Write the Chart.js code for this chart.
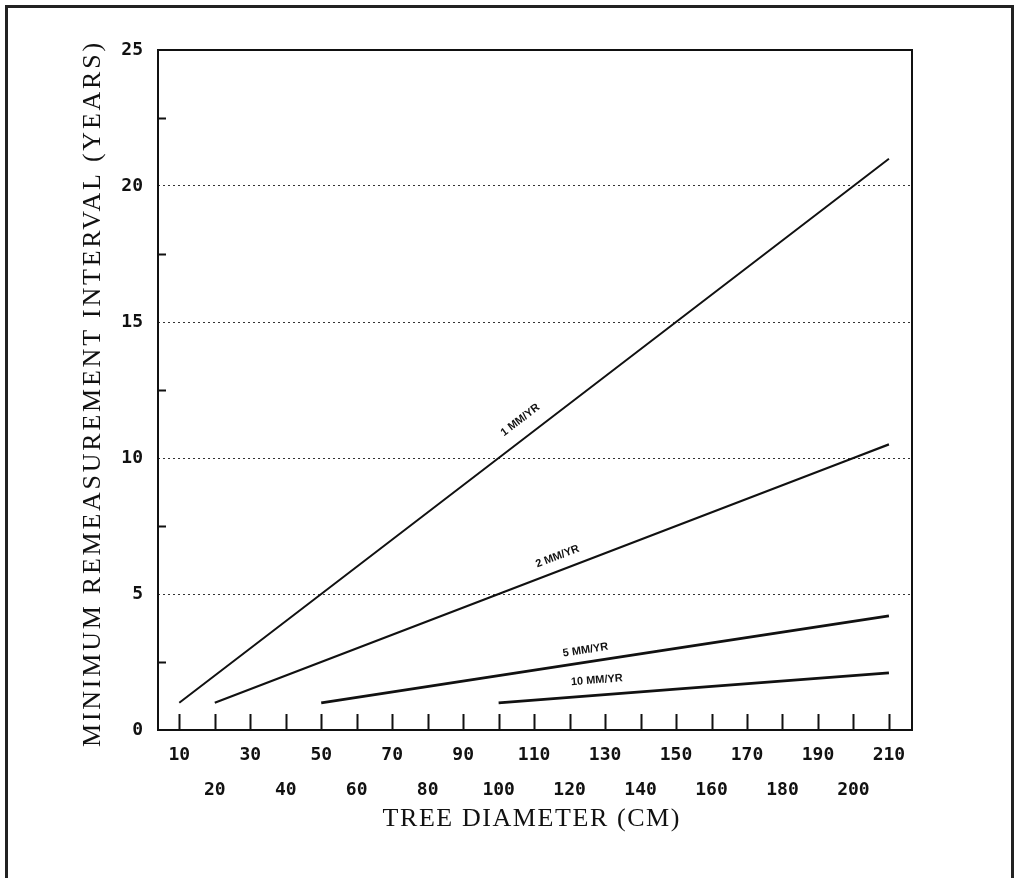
<!DOCTYPE html>
<html>
<head>
<meta charset="utf-8">
<script src="https://cdn.jsdelivr.net/npm/chart.js@4.4.1/dist/chart.umd.min.js"></script>
<style>
  html, body { margin: 0; padding: 0; background: #fff; }
  canvas { display: block; }
</style>
</head>
<body>
<canvas id="chart" width="1018" height="878"></canvas>
<script>
// ---- minimum remeasurement interval vs tree diameter ----

const xTicks = [10, 20, 30, 40, 50, 60, 70, 80, 90, 100, 110, 120, 130, 140, 150, 160, 170, 180, 190, 200, 210];
const yTicks = [0, 5, 10, 15, 20, 25];
const yMinorTicks = [2.5, 7.5, 12.5, 17.5, 22.5];

const xTitle = 'TREE DIAMETER (CM)';
const yTitle = 'MINIMUM REMEASUREMENT INTERVAL (YEARS)';
const rateNames = ['1 MM/YR', '2 MM/YR', '5 MM/YR', '10 MM/YR'];

// diameters (cm) and interval (years)
const diam1mm = [10, 50, 100, 150, 200, 210];
const years1mm = [1, 5, 10, 15, 20, 21];
const diam2mm = [20, 100, 200, 210];
const years2mm = [1, 5, 10, 10.5];
const diam5mm = [50, 100, 150, 210];
const years5mm = [1, 2, 3, 4.2];
const diam10mm = [100, 150, 210];
const years10mm = [1, 1.5, 2.1];

const seriesX = [diam1mm, diam2mm, diam5mm, diam10mm];
const seriesY = [years1mm, years2mm, years5mm, years10mm];

// where each curve label sits (diameter) and how far above the line
const labelAt = [109, 118, 125, 128];
const labelOffset = [17, 14, 12, 15];
const lineWidths = [2, 2.2, 2.8, 2.8];

const INK = '#111';
const TICK_FONT = { family: '"DejaVu Sans Mono", monospace', size: 18, weight: 'bold' };
const TITLE_FONT = '26px "Liberation Serif", "DejaVu Serif", serif';

function yOnSeries(i, d) {
  const xs = seriesX[i], ys = seriesY[i];
  for (let k = 0; k < xs.length - 1; k++) {
    if (d >= xs[k] && d <= xs[k + 1]) {
      return ys[k] + (ys[k + 1] - ys[k]) * (d - xs[k]) / (xs[k + 1] - xs[k]);
    }
  }
  return ys[ys.length - 1];
}

// spaced-out title text stretched to a given width, centred on (0, 0)
function spacedText(ctx, text, width) {
  ctx.letterSpacing = '0px';
  const w0 = ctx.measureText(text).width;
  const sp = (width - w0) / (text.length - 1);
  ctx.letterSpacing = sp.toFixed(2) + 'px';
  ctx.textAlign = 'left';
  ctx.fillText(text, -width / 2, 0);
  ctx.letterSpacing = '0px';
}

// plot box, inward tick marks, outer frame, axis titles, curve labels
const paperPlugin = {
  id: 'paper',
  afterDraw(chart) {
    const { ctx, chartArea: a, scales } = chart;
    const xs = scales.x, ys = scales.y;
    ctx.save();

    // plot box
    ctx.strokeStyle = INK;
    ctx.lineWidth = 2;
    ctx.strokeRect(a.left, a.top, a.right - a.left, a.bottom - a.top);

    // bottom ticks pointing in
    ctx.beginPath();
    xTicks.forEach(v => {
      const px = Math.round(xs.getPixelForValue(v)) + 0.5;
      ctx.moveTo(px, a.bottom);
      ctx.lineTo(px, a.bottom - 16);
    });
    // left minor ticks
    yMinorTicks.forEach(v => {
      const py = Math.round(ys.getPixelForValue(v)) + 0.5;
      ctx.moveTo(a.left, py);
      ctx.lineTo(a.left + 8, py);
    });
    ctx.stroke();

    // outer frame (no bottom edge)
    ctx.lineWidth = 3;
    ctx.strokeStyle = '#222';
    ctx.beginPath();
    ctx.moveTo(6.5, 878);
    ctx.lineTo(6.5, 6.5);
    ctx.lineTo(1012.5, 6.5);
    ctx.lineTo(1012.5, 878);
    ctx.stroke();

    // axis titles
    ctx.fillStyle = INK;
    ctx.font = TITLE_FONT;
    ctx.textBaseline = 'alphabetic';
    ctx.save();
    ctx.translate((a.left + a.right) / 2 - 4, 826);
    spacedText(ctx, xTitle, 297);
    ctx.restore();
    ctx.save();
    ctx.translate(100, 395);
    ctx.rotate(-Math.PI / 2);
    spacedText(ctx, yTitle, 704);
    ctx.restore();

    // curve labels
    ctx.font = 'bold 11px "Liberation Sans", sans-serif';
    ctx.textAlign = 'center';
    ctx.textBaseline = 'middle';
    rateNames.forEach((name, i) => {
      const pts = chart.getDatasetMeta(i).data;
      const p0 = pts[0], p1 = pts[pts.length - 1];
      const ang = Math.atan2(p1.y - p0.y, p1.x - p0.x);
      const d = labelAt[i];
      const px = xs.getPixelForValue(d);
      const py = ys.getPixelForValue(yOnSeries(i, d));
      const off = labelOffset[i];
      ctx.save();
      ctx.translate(px + Math.sin(ang) * off, py - Math.cos(ang) * off);
      ctx.rotate(ang);
      ctx.fillText(name, 0, 0);
      ctx.restore();
    });

    ctx.restore();
  }
};

const datasets = rateNames.map((name, i) => ({
  label: name,
  data: seriesX[i].map((d, k) => ({ x: d, y: seriesY[i][k] })),
  borderColor: INK,
  borderWidth: lineWidths[i],
  pointRadius: 0,
  tension: 0,
  fill: false,
}));

new Chart(document.getElementById('chart'), {
  type: 'line',
  data: { datasets },
  options: {
    responsive: false,
    animation: false,
    layout: { padding: { left: 0, right: 106, top: 50, bottom: 0 } },
    plugins: {
      legend: { display: false },
      tooltip: { enabled: false },
    },
    scales: {
      x: {
        type: 'linear',
        min: 4,
        max: 216.5,
        afterBuildTicks: scale => { scale.ticks = xTicks.map(v => ({ value: v })); },
        afterFit: scale => { scale.height = 148; },
        grid: { display: false, drawTicks: false },
        border: { display: false },
        ticks: {
          autoSkip: false,
          maxRotation: 0,
          minRotation: 0,
          padding: 8,
          color: INK,
          font: { ...TICK_FONT, lineHeight: 1.95 },
          callback: (v, i) => (i % 2 === 0 ? [String(v), ''] : ['', String(v)]),
        },
        title: { display: false },
      },
      y: {
        min: 0,
        max: 25,
        afterBuildTicks: scale => { scale.ticks = yTicks.map(v => ({ value: v })); },
        afterFit: scale => { scale.width = 158; },
        grid: {
          drawTicks: false,
          lineWidth: 1,
          color: c => (c.tick && (c.tick.value === 0 || c.tick.value === 25) ? 'rgba(0,0,0,0)' : '#333'),
        },
        border: { display: false, dash: [2, 3] },
        ticks: {
          padding: 15,
          color: INK,
          font: TICK_FONT,
        },
        title: { display: false },
      },
    },
  },
  plugins: [paperPlugin],
});
</script>
</body>
</html>
